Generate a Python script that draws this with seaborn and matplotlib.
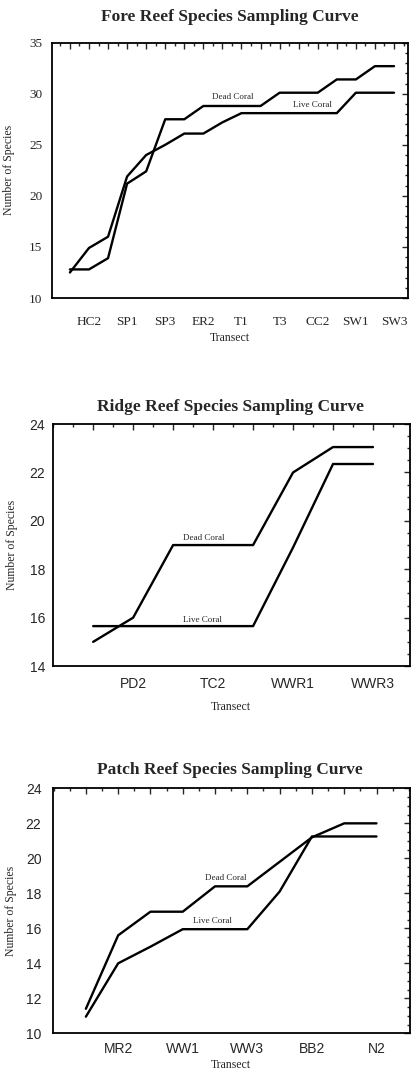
import pandas as pd
import seaborn as sns
import matplotlib.pyplot as plt
from matplotlib.ticker import MultipleLocator

# Fore reef
fore_transects = ['HC1', 'HC2', 'HC3', 'SP1', 'SP2', 'SP3', 'ER1', 'ER2', 'ER3',
                  'T1', 'T2', 'T3', 'CC1', 'CC2', 'CC3', 'SW1', 'SW2', 'SW3']
fore_dead = [12.8, 12.8, 13.9, 21.2, 22.4, 27.5, 27.5, 28.8, 28.8,
             28.8, 28.8, 30.1, 30.1, 30.1, 31.4, 31.4, 32.7, 32.7]
fore_live = [12.5, 14.9, 16.0, 21.9, 24.0, 25.0, 26.1, 26.1, 27.2,
             28.1, 28.1, 28.1, 28.1, 28.1, 28.1, 30.1, 30.1, 30.1]

# Ridge reef
ridge_transects = ['PD1', 'PD2', 'TC1', 'TC2', 'TC3', 'WWR1', 'WWR2', 'WWR3']
ridge_dead = [15.0, 16.0, 19.0, 19.0, 19.0, 22.0, 23.05, 23.05]
ridge_live = [15.65, 15.65, 15.65, 15.65, 15.65, 18.9, 22.35, 22.35]

# Patch reef
patch_transects = ['MR1', 'MR2', 'MR3', 'WW1', 'WW2', 'WW3', 'BB1', 'BB2', 'N1', 'N2']
patch_dead = [11.4, 15.6, 16.95, 16.95, 18.4, 18.4, 19.8, 21.2, 22.0, 22.0]
patch_live = [10.95, 14.0, 14.95, 15.95, 15.95, 15.95, 18.1, 21.25, 21.25, 21.25]

SERIF = 'Liberation Serif'
SANS = 'Liberation Sans'


def long_frame(transects, dead, live):
    n = len(transects)
    return pd.DataFrame({
        'x': list(range(n)) * 2,
        'y': dead + live,
        'type': ['Dead Coral'] * n + ['Live Coral'] * n,
    })


def draw_panel(fig, rect, title, title_y, transects, dead, live, ylim, xlim,
               ymajor, yminor, tick_font, tick_size, xpad, ypad, ylab_x, xlab_y, notes):
    ax = fig.add_axes(rect)
    data = long_frame(transects, dead, live)
    sns.lineplot(x='x', y='y', hue='type', data=data, ax=ax, legend=False,
                 palette=['black', 'black'], linewidth=1.7)
    ax.set_xlim(*xlim)
    ax.set_ylim(*ylim)
    # every second transect carries a label
    ax.set_xticks(range(len(transects)))
    ax.set_xticklabels([t if i % 2 == 1 else '' for i, t in enumerate(transects)])
    ax.xaxis.set_minor_locator(MultipleLocator(0.5))
    ax.yaxis.set_major_locator(MultipleLocator(ymajor))
    ax.yaxis.set_minor_locator(MultipleLocator(yminor))
    ax.tick_params(which='both', direction='in', top=True, right=True, width=1.0)
    ax.tick_params(which='major', length=4)
    ax.tick_params(which='minor', length=2)
    ax.tick_params(axis='x', which='major', pad=xpad)
    ax.tick_params(axis='y', which='major', pad=ypad)
    for lab in ax.get_xticklabels() + ax.get_yticklabels():
        lab.set_fontfamily(tick_font)
        lab.set_fontsize(tick_size)
    for s in ax.spines.values():
        s.set_linewidth(1.3)
        s.set_color('black')
    ax.set_xlabel('Transect', fontfamily=SERIF, fontsize=8.5)
    ax.set_ylabel('Number of Species', fontfamily=SERIF, fontsize=8.5)
    ax.yaxis.set_label_coords(ylab_x, 0.5)
    ax.xaxis.set_label_coords(0.5, xlab_y)
    fig.text(0.56, title_y, title, ha='center', va='center', fontfamily=SERIF,
             fontweight='bold', fontsize=12.5)
    for txt, x, y in notes:
        ax.text(x, y, txt, ha='center', va='center', fontfamily=SERIF, fontsize=6.5)
    return ax


sns.set_style('white')
plt.rcParams['font.family'] = [SERIF, 'DejaVu Sans']
fig = plt.figure(figsize=(4.11, 10.72), dpi=100)

draw_panel(fig, [0.1265, 0.722, 0.866, 0.2382], 'Fore Reef Species Sampling Curve',
           1 - 17 / 1072, fore_transects, fore_dead, fore_live,
           (10, 35), (-0.94, 17.73), 5, 1, SERIF, 9.5, 13, 7, -0.104, -0.135,
           [('Dead Coral', 8.55, 29.7), ('Live Coral', 12.7, 28.9)])

draw_panel(fig, [0.128, 0.3787, 0.869, 0.2257], 'Ridge Reef Species Sampling Curve',
           1 - 407 / 1072, ridge_transects, ridge_dead, ridge_live,
           (14, 24), (-1.015, 7.92), 2, 0.5, SANS, 10, 8, 5.5, -0.097, -0.145,
           [('Dead Coral', 2.77, 19.3), ('Live Coral', 2.74, 15.9)])

draw_panel(fig, [0.128, 0.0361, 0.869, 0.2285], 'Patch Reef Species Sampling Curve',
           1 - 770 / 1072, patch_transects, patch_dead, patch_live,
           (10, 24), (-1.03, 10.03), 2, 0.5, SANS, 10, 6.5, 8, -0.1, -0.105,
           [('Dead Coral', 4.33, 18.87), ('Live Coral', 3.93, 16.42)])

fig.savefig('out.png', dpi=100)
